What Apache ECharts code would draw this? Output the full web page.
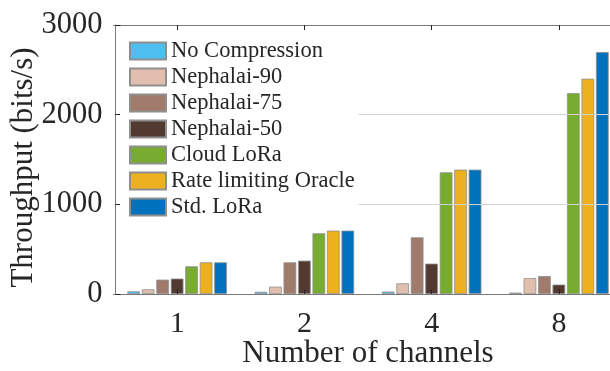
<!DOCTYPE html>
<html>
<head>
<meta charset="utf-8">
<script src="https://cdn.jsdelivr.net/npm/echarts@6/dist/echarts.min.js"></script>
<style>
  html, body { margin: 0; padding: 0; background: #fff; }
  #chart { width: 610px; height: 371px; }
</style>
</head>
<body>
<div id="chart"></div>
<script>
// Channel counts on the x axis
const channels = ['1', '2', '4', '8'];

// Throughput (bits/s) per scheme, one value per channel count
const noCompression = [30, 25, 27, 15];
const nephalai90 = [52, 82, 119, 178];
const nephalai75 = [160, 353, 632, 200];
const nephalai50 = [172, 372, 339, 105];
const cloudLora = [309, 677, 1357, 2241];
const rateOracle = [353, 707, 1387, 2401];
const stdLora = [353, 707, 1387, 2698];

const seriesNames = ['No Compression', 'Nephalai-90', 'Nephalai-75', 'Nephalai-50',
  'Cloud LoRa', 'Rate limiting Oracle', 'Std. LoRa'];
const seriesData = [noCompression, nephalai90, nephalai75, nephalai50,
  cloudLora, rateOracle, stdLora];
const seriesColors = ['#4DBEEE', '#E2BEAE', '#A07A6A', '#523A31',
  '#77AC30', '#EDB120', '#0072BD'];

const FONT = "'Liberation Serif', 'Times New Roman', serif";
const TEXT = '#262626';
const AXIS = '#7a7a7a';

const chart = echarts.init(document.getElementById('chart'), null, { renderer: 'canvas' });

const series = seriesNames.map((name, i) => ({
  name,
  type: 'bar',
  data: seriesData[i],
  barWidth: 12.7,
  barGap: '14%',
  itemStyle: { color: seriesColors[i], borderColor: '#8f8f8f', borderWidth: 0.8 },
  emphasis: { disabled: true }
}));

chart.setOption({
  animation: false,
  backgroundColor: '#fff',
  grid: { left: 113.5, top: 25, width: 509, height: 269, outerBoundsMode: 'none', containLabel: false },
  legend: {
    orient: 'vertical',
    left: 120,
    top: 30,
    z: 10,
    padding: [8, 4, 4, 9],
    backgroundColor: '#fff',
    icon: 'rect',
    itemWidth: 36,
    itemHeight: 17,
    itemGap: 0,
    data: seriesNames,
    textStyle: { fontFamily: FONT, fontSize: 22.5, lineHeight: 26, color: TEXT },
    selectedMode: false
  },
  xAxis: [{
    type: 'category',
    data: channels,
    position: 'bottom',
    z: 5,
    axisLine: { show: true, lineStyle: { color: AXIS, width: 1 } },
    axisTick: { show: true, inside: true, alignWithLabel: true, length: 5, lineStyle: { color: TEXT } },
    axisLabel: { fontFamily: FONT, fontSize: 30, color: TEXT, margin: 15 },
    name: 'Number of channels',
    nameLocation: 'middle',
    nameGap: 44,
    nameMoveOverlap: false,
    nameTextStyle: { fontFamily: FONT, fontSize: 31, color: TEXT }
  }, {
    type: 'category',
    data: channels,
    position: 'top',
    z: 5,
    axisLine: { show: true, lineStyle: { color: AXIS, width: 1 } },
    axisTick: { show: true, inside: true, alignWithLabel: true, length: 5, lineStyle: { color: TEXT } },
    axisLabel: { show: false }
  }],
  yAxis: {
    type: 'value',
    min: 0,
    max: 3000,
    interval: 1000,
    offset: -2,
    z: 5,
    axisLine: { show: true, lineStyle: { color: AXIS, width: 1 } },
    axisTick: { show: true, inside: true, length: 5, lineStyle: { color: TEXT } },
    splitLine: { show: true, lineStyle: { color: '#d2d2d2', width: 1 } },
    axisLabel: { fontFamily: FONT, fontSize: 30.5, color: TEXT, margin: 13, formatter: v => String(v) },
    name: 'Throughput (bits/s)',
    nameLocation: 'middle',
    nameGap: 76,
    nameMoveOverlap: false,
    nameTextStyle: { fontFamily: FONT, fontSize: 31, color: TEXT, padding: [0, 16, 0, 0] }
  },
  series
});
</script>
</body>
</html>
